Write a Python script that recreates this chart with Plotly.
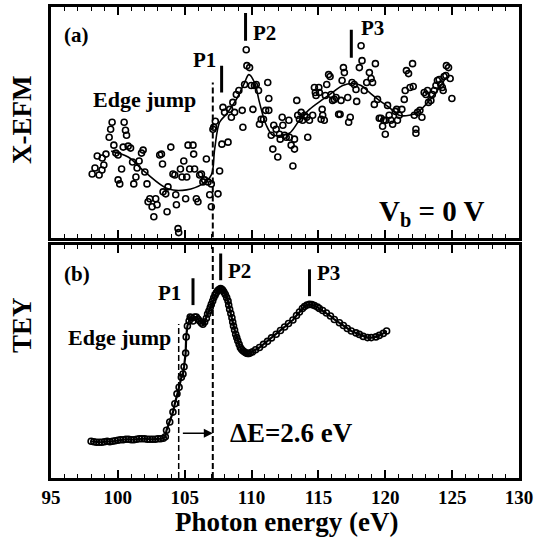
import plotly.graph_objects as go

# ---------------- data ----------------
# (a) X-EFM scattered data (photon energy eV, signal a.u.)
xefm_x = [98.08, 98.29, 98.46, 98.60, 98.83, 98.95, 98.81, 99.11, 99.35, 99.46, 99.57, 99.70, 99.85, 100.02, 100.02,
          100.14, 100.28, 100.40, 100.47, 100.57, 100.65, 100.77, 100.95, 101.10, 101.19, 101.35, 101.44, 101.59, 101.77,
          101.89, 102.02, 102.18, 102.26, 102.39, 102.56, 102.69, 102.83, 102.93, 103.13, 103.26, 103.34, 103.38, 103.58,
          103.68, 103.75, 103.96, 104.12, 104.26, 104.33, 104.38, 104.50, 104.55, 104.68, 104.80, 104.93, 105.07, 105.15,
          105.25, 105.37, 105.62, 105.67, 105.74, 105.87, 105.99, 106.12, 106.25, 106.36, 106.49, 106.62, 106.74, 106.87,
          106.99, 106.99, 107.11, 107.17, 107.29, 107.49, 107.61, 107.78, 107.86, 107.98, 108.24, 108.36, 108.49, 108.60,
          108.73, 108.86, 109.05, 109.30, 109.35, 109.48, 109.65, 109.85, 109.60, 109.98, 110.10, 110.22, 110.35, 110.52,
          110.59, 110.72, 110.89, 111.05, 111.21, 111.29, 111.29, 111.47, 111.59, 111.66, 111.84, 111.96, 112.09, 112.14,
          112.29, 112.34, 112.47, 112.59, 112.79, 112.83, 112.96, 113.09, 113.21, 113.38, 113.45, 113.21, 113.58, 113.71,
          113.82, 113.96, 114.12, 114.20, 114.33, 114.57, 114.70, 114.77, 114.82, 115.03, 115.07, 115.20, 115.28, 115.32,
          115.44, 115.52, 115.62, 115.76, 115.87, 115.95, 116.06, 116.19, 116.32, 116.51, 116.62, 116.69, 116.77, 116.87,
          116.94, 117.19, 117.26, 117.38, 117.51, 117.68, 117.81, 117.86, 118.06, 118.19, 118.26, 118.43, 118.61, 118.81,
          118.94, 119.05, 119.26, 119.42, 119.18, 119.55, 119.68, 119.80, 119.88, 120.00, 120.05, 120.17, 120.29, 120.42,
          120.55, 120.75, 120.85, 120.91, 121.04, 121.24, 121.42, 121.49, 121.58, 121.74, 121.85, 122.04, 122.09, 122.17,
          122.29, 122.29, 122.41, 122.59, 122.74, 122.91, 123.04, 123.16, 123.23, 123.41, 123.52, 123.66, 123.79, 123.90,
          124.03, 124.15, 124.27, 124.33, 124.40, 124.53, 124.57, 124.73, 124.85, 124.98]
xefm_y = [64, 70, 82, 63, 80, 73, 68, 84, 101, 109, 116, 93, 85, 83, 58,
          54, 69, 91, 116, 108, 103, 92, 90, 76, 54, 61, 70, 77, 85,
          88, 66, 54, 36, 39, 31, 21, 39, 33, 83, 84, 74, 46, 44,
          26, 51, 91, 64, 63, 43, 33, 9, 5, 69, 61, 77, 39, 61,
          93, 69, 93, 84, 69, 39, 36, 63, 64, 56, 58, 79, 56, 43,
          31, 54, 109, 111, 117, 44, 67, 94, 131, 126, 96, 129, 121, 136,
          126, 144, 148, 128, 111, 154, 173, 171, 189, 153, 129, 153, 154, 148,
          114, 119, 119, 128, 156, 140, 128, 103, 89, 113, 109, 81, 104, 99,
          121, 113, 103, 101, 118, 101, 93, 72, 99, 138, 123, 89, 119, 126,
          118, 123, 121, 101, 118, 123, 151, 146, 143, 151, 146, 119, 129, 123,
          118, 143, 154, 164, 162, 144, 138, 139, 141, 124, 124, 138, 158, 171,
          166, 141, 116, 121, 156, 154, 149, 137, 171, 193, 178, 148, 156, 166,
          160, 156, 175, 139, 134, 120, 120, 112, 118, 104, 118, 133, 123, 118,
          114, 127, 129, 118, 123, 129, 139, 148, 168, 165, 151, 175, 152, 123,
          109, 105, 126, 128, 121, 146, 144, 148, 136, 138, 144, 148, 153, 158,
          159, 154, 151, 148, 162, 163, 173, 171, 160, 140]

# (a) smooth guide curve
fit_x = [99.5, 100.77, 102.02, 103.75, 105.13, 106.34, 106.99, 107.24, 107.61, 108.11, 108.86, 109.48, 109.80,
         110.22, 110.59, 111.10, 111.59, 112.21, 112.83, 113.58, 114.33, 115.32, 116.06, 116.81, 117.56, 118.19,
         118.81, 119.55, 120.29, 121.04, 121.79, 122.41, 123.04, 123.79, 124.53]
fit_y = [87, 81, 66, 49, 48, 54, 63, 89, 116, 124, 139, 156, 164,
         156, 136, 113, 103, 103, 105, 118, 129, 139, 146, 153, 155, 153,
         146, 138, 131, 123, 123, 126, 134, 146, 161]

# (b) TEY spectrum
tey_x = [98.0, 98.2, 98.4, 98.6, 98.8, 99.0, 99.2, 99.4, 99.6, 99.8, 100.0, 100.2, 100.4, 100.6, 100.8, 101.0,
         101.2, 101.4, 101.6, 101.8, 102.0, 102.2, 102.4, 102.6, 102.8, 103.0, 103.2, 103.4, 103.55,
         103.64, 103.88, 104.12, 104.26, 104.42, 104.58, 104.75, 104.87, 104.95, 105.07, 105.11, 105.20, 105.33,
         105.41, 105.50, 105.62, 105.74, 105.87, 105.99, 106.12, 106.25, 106.36, 106.49, 106.62, 106.71, 106.81,
         106.91, 106.99, 107.09, 107.17, 107.27, 107.36, 107.46, 107.56, 107.68, 107.78, 107.86, 107.94, 108.04,
         108.14, 108.24, 108.29, 108.36, 108.45, 108.53, 108.59, 108.65, 108.73, 108.81, 108.89, 108.97, 109.07,
         109.16, 109.25, 109.35, 109.48, 109.60, 109.70, 109.80, 109.92, 110.08, 110.30, 110.59, 110.89, 111.19,
         111.49, 111.84, 112.16, 112.47, 112.76, 113.09, 113.36, 113.58, 113.80, 113.96, 114.14, 114.33, 114.51,
         114.70, 114.93, 115.07, 115.32, 115.60, 115.90, 116.19, 116.57, 116.87, 117.16, 117.46, 117.81, 118.06,
         118.35, 118.67, 118.95, 119.30, 119.55, 119.85, 120.10]
tey_y = [36, 35.5, 35, 35, 35, 35.5, 36, 35.5, 36, 36.5, 37, 37.5, 37.5, 38, 38, 37.5,
         37.5, 38, 38.5, 38.5, 38.5, 38, 38, 38, 38, 38.5, 38.5, 39, 40.5,
         47, 55.3, 65.3, 73.7, 83.7, 90.3, 100.3, 103.7, 111, 124.7, 141, 152, 157,
         161, 160.3, 157, 161, 161, 159, 157, 155, 153.7, 156, 159.7, 164, 167,
         170.5, 173.7, 177, 180.3, 183, 185.3, 187.5, 188.7, 189.7, 189, 187.7, 186, 183.7,
         180.5, 177, 173, 168.7, 164.5, 160.3, 156, 152, 148, 143.7, 140.3, 137, 133.5,
         130.3, 128.5, 127, 125.7, 124.7, 124.3, 124.3, 125, 126, 128, 130.3, 133.5, 136.5,
         140, 143.7, 147.5, 151, 154.5, 158, 162.5, 166, 169.5, 171.5, 173, 173.7, 173.5,
         172.5, 171, 169.5, 167.5, 165, 162, 158.5, 155.3, 152.5, 149.5, 147, 145, 143.5,
         141.5, 140.3, 140.3, 141, 142.5, 144.5, 147]

# peak markers: label, energy, bar bottom, bar top
peaks_a = ["P1", "P2", "P3"]
peaks_a_x = [107.76, 109.55, 117.46]
peaks_a_y0 = [146, 198, 181]
peaks_a_y1 = [173, 226, 209]
peaks_b = ["P1", "P2", "P3"]
peaks_b_x = [105.62, 107.69, 114.33]
peaks_b_y0 = [173, 198, 182]
peaks_b_y1 = [200, 225, 209]

edge_a = 107.1          # edge jump energy (X-EFM)
edge_b = 104.55         # edge jump energy (TEY)
x_ticks = [95, 100, 105, 110, 115, 120, 125, 130]

FONT = "Liberation Serif, Times New Roman, serif"

fig = go.Figure()

mk = dict(symbol="circle-open", size=6, color="black", line=dict(width=1.6, color="black"))

fig.add_trace(go.Scatter(x=xefm_x, y=xefm_y, mode="markers", marker=mk, xaxis="x2", yaxis="y2",
                         showlegend=False, hoverinfo="skip"))
fig.add_trace(go.Scatter(x=fit_x, y=fit_y, mode="lines", line=dict(color="black", width=1.6, shape="spline", smoothing=1.0),
                         xaxis="x2", yaxis="y2", showlegend=False, hoverinfo="skip"))
fig.add_trace(go.Scatter(x=tey_x, y=tey_y, mode="lines+markers", marker=mk, line=dict(color="black", width=2.2),
                         xaxis="x", yaxis="y", showlegend=False, hoverinfo="skip"))

shapes = []
# peak bars
for px_, y0, y1 in zip(peaks_a_x, peaks_a_y0, peaks_a_y1):
    shapes.append(dict(type="line", xref="x2", yref="y2", x0=px_, x1=px_, y0=y0, y1=y1,
                       line=dict(color="black", width=3)))
for px_, y0, y1 in zip(peaks_b_x, peaks_b_y0, peaks_b_y1):
    shapes.append(dict(type="line", xref="x", yref="y", x0=px_, x1=px_, y0=y0, y1=y1,
                       line=dict(color="black", width=3)))
# dashed edge lines
dash = dict(color="black", width=2, dash="6px,3px")
shapes.append(dict(type="line", xref="x2", yref="y2", x0=edge_a, x1=edge_a, y0=0, y1=156, line=dash))
shapes.append(dict(type="line", xref="x", yref="y", x0=edge_a, x1=edge_a, y0=-1, y1=233, line=dash))
shapes.append(dict(type="line", xref="x", yref="y", x0=edge_b, x1=edge_b, y0=-1, y1=154,
                   line=dict(color="black", width=1.5, dash="6px,3px")))

bold = dict(family=FONT, size=21, color="black", weight="bold")
ann = []
ann.append(dict(text="(a)", x=95.8, y=204, xref="x2", yref="y2", xanchor="left", yanchor="middle", showarrow=False, font=bold))
ann.append(dict(text="(b)", x=95.8, y=204, xref="x", yref="y", xanchor="left", yanchor="middle", showarrow=False, font=bold))
ann.append(dict(text="Edge jump", x=102.0, y=139, xref="x2", yref="y2", xanchor="center", yanchor="middle", showarrow=False,
                font=dict(family=FONT, size=22, color="black", weight="bold")))
ann.append(dict(text="Edge jump", x=100.15, y=140, xref="x", yref="y", xanchor="center", yanchor="middle", showarrow=False,
                font=dict(family=FONT, size=22, color="black", weight="bold")))
# peak labels
ann.append(dict(text=peaks_a[0], x=peaks_a_x[0], y=peaks_a_y1[0] + 6, xref="x2", yref="y2", xanchor="right", yanchor="middle", xshift=-4, showarrow=False, font=bold))
ann.append(dict(text=peaks_a[1], x=peaks_a_x[1], y=peaks_a_y1[1] - 20, xref="x2", yref="y2", xanchor="left", yanchor="middle", xshift=5, showarrow=False, font=bold))
ann.append(dict(text=peaks_a[2], x=peaks_a_x[2], y=peaks_a_y1[2] + 2, xref="x2", yref="y2", xanchor="left", yanchor="middle", xshift=8, showarrow=False, font=bold))
ann.append(dict(text=peaks_b[0], x=peaks_b_x[0], y=peaks_b_y1[0] - 15, xref="x", yref="y", xanchor="right", yanchor="middle", xshift=-10, showarrow=False, font=bold))
ann.append(dict(text=peaks_b[1], x=peaks_b_x[1], y=peaks_b_y1[1] - 18, xref="x", yref="y", xanchor="left", yanchor="middle", xshift=5, showarrow=False, font=bold))
ann.append(dict(text=peaks_b[2], x=peaks_b_x[2], y=peaks_b_y1[2] - 4, xref="x", yref="y", xanchor="left", yanchor="middle", xshift=6, showarrow=False, font=bold))
# Vb label
ann.append(dict(text="V<sub>b</sub> = 0 V", x=119.4, y=25, xref="x2", yref="y2", xanchor="left", yanchor="middle", showarrow=False,
                font=dict(family=FONT, size=29, color="black", weight="bold")))
# Delta E arrow and label
ann.append(dict(text="", x=edge_a, y=44, ax=edge_b + 0.2, ay=44, xref="x", yref="y", axref="x", ayref="y",
                showarrow=True, arrowhead=2, arrowsize=1.2, arrowwidth=1.5, arrowcolor="black", standoff=0))
ann.append(dict(text="ΔE=2.6 eV", x=108.2, y=44, xref="x", yref="y", xanchor="left", yanchor="middle", showarrow=False,
                font=dict(family=FONT, size=27, color="black", weight="bold")))
# axis titles
ann.append(dict(text="X-EFM", x=-0.062, y=0.76, xref="paper", yref="paper", textangle=-90, xanchor="center", yanchor="middle",
                showarrow=False, font=dict(family=FONT, size=27, color="black", weight="bold")))
ann.append(dict(text="TEY", x=-0.062, y=0.325, xref="paper", yref="paper", textangle=-90, xanchor="center", yanchor="middle",
                showarrow=False, font=dict(family=FONT, size=27, color="black", weight="bold")))
ann.append(dict(text="Photon energy (eV)", x=0.503, y=-0.093, xref="paper", yref="paper", xanchor="center", yanchor="middle",
                showarrow=False, font=dict(family=FONT, size=27, color="black", weight="bold")))

xcommon = dict(range=[95, 130], showline=True, linewidth=3, linecolor="black", mirror="allticks",
               ticks="inside", tickvals=x_ticks, ticklen=8, tickwidth=1.5, tickcolor="black",
               minor=dict(dtick=1, ticks="inside", ticklen=4, tickwidth=1.2, tickcolor="black"),
               showgrid=False, zeroline=False)
ycommon = dict(showline=True, linewidth=3, linecolor="black", mirror=True, ticks="", showticklabels=False,
               showgrid=False, zeroline=False)

fig.update_layout(
    width=537, height=542,
    margin=dict(l=51, r=17, t=4, b=64),
    paper_bgcolor="white", plot_bgcolor="white",
    xaxis=dict(**xcommon, anchor="y", domain=[0, 1], showticklabels=True,
               tickfont=dict(family=FONT, size=19, color="black", weight="bold")),
    yaxis=dict(**ycommon, domain=[0, 0.4937], range=[-1, 233], anchor="x"),
    xaxis2=dict(**xcommon, anchor="y2", domain=[0, 1], showticklabels=False),
    yaxis2=dict(**ycommon, domain=[0.5105, 1], range=[0, 232], anchor="x2"),
    shapes=shapes, annotations=ann,
)

fig.write_html("out.html")
